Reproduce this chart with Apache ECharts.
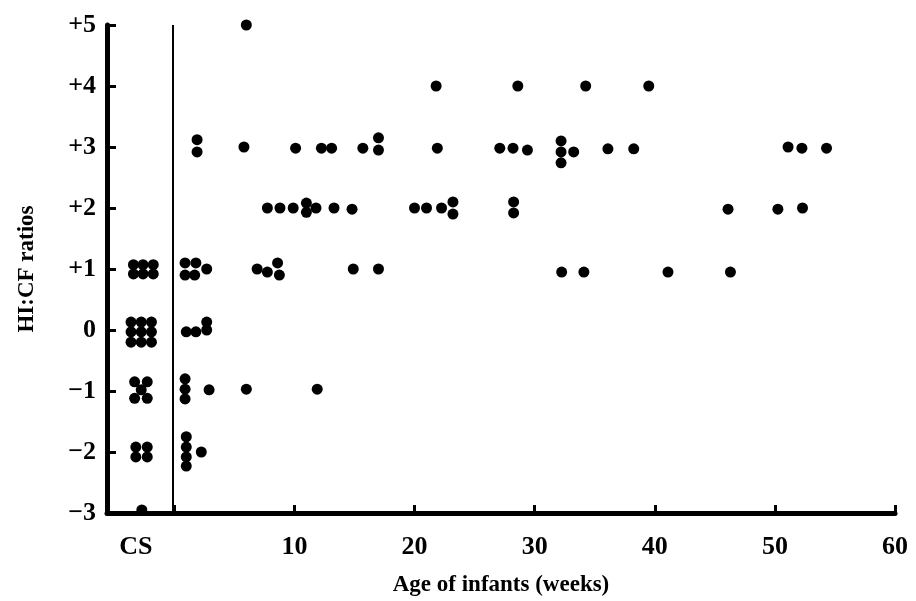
<!DOCTYPE html>
<html>
<head>
<meta charset="utf-8">
<script src="https://cdn.jsdelivr.net/npm/echarts@6/dist/echarts.min.js"></script>
<style>
  html, body { margin: 0; padding: 0; background: #fff; }
  #chart { width: 916px; height: 601px; }
</style>
</head>
<body>
<div id="chart"></div>
<script>
// CS = cord serum, drawn left of the week-0 line
var ageWeeks = [
    -3.4, -2.6, -1.75, -3.4, -2.6, -1.75,
    -3.6, -2.75, -1.9, -3.6, -2.75, -1.9, -3.6, -2.75, -1.9,
    -3.3, -2.25, -2.75, -3.3, -2.25,
    -3.2, -2.25, -3.2, -2.25,
    -2.7,
    6.0,
    21.8, 28.6, 34.25, 39.5,
    1.9, 1.9, 5.8, 10.1, 12.25, 13.1, 15.7, 17.0, 17.0, 21.9, 27.1, 28.2, 29.4,
    32.2, 32.2, 32.2, 33.25, 36.1, 38.25, 51.1, 52.25, 54.3,
    7.75, 8.8, 9.9, 11.0, 11.0, 11.8, 13.3, 14.8, 20.0, 21.0, 22.25, 23.2, 23.2,
    28.25, 28.25, 46.1, 50.25, 52.3,
    0.9, 1.8, 0.9, 1.7, 2.7, 6.9, 7.75, 8.6, 8.75, 14.9, 17.0, 32.25, 34.1, 41.1, 46.3,
    1.0, 1.8, 2.7, 2.7,
    0.9, 0.9, 0.9, 2.9, 6.0, 11.9,
    1.0, 1.0, 1.0, 1.0, 2.25
];
var hiCfRatio = [
    1.07, 1.07, 1.07, 0.92, 0.92, 0.92,
    0.13, 0.13, 0.13, -0.03, -0.03, -0.03, -0.2, -0.2, -0.2,
    -0.85, -0.85, -0.98, -1.12, -1.12,
    -1.92, -1.92, -2.08, -2.08,
    -2.95,
    5,
    4, 4, 4, 4,
    3.12, 2.92, 3, 2.98, 2.98, 2.98, 2.98, 3.15, 2.95, 2.98, 2.98, 2.98, 2.95,
    3.1, 2.92, 2.74, 2.92, 2.97, 2.97, 3.0, 2.98, 2.98,
    2, 2, 2, 2.08, 1.93, 2, 2, 1.98, 2, 2, 2, 2.1, 1.9,
    2.1, 1.92, 1.98, 1.98, 2,
    1.1, 1.1, 0.9, 0.9, 1.0, 1.0, 0.95, 1.1, 0.9, 1.0, 1.0, 0.95, 0.95, 0.95, 0.95,
    -0.03, -0.03, 0, 0.13,
    -0.8, -0.97, -1.13, -0.98, -0.97, -0.97,
    -1.75, -1.92, -2.08, -2.23, -2.0
];
var xLabelValues = [-3.2, 10, 20, 30, 40, 50, 60];
var xLabelTexts = ['CS', '10', '20', '30', '40', '50', '60'];
var xTickValues = [0, 10, 20, 30, 40, 50, 60];
var yTickLabels = ['\u22123', '\u22122', '\u22121', '0', '+1', '+2', '+3', '+4', '+5'];

var points = [];
for (var i = 0; i < ageWeeks.length; i++) {
    points.push([ageWeeks[i], hiCfRatio[i]]);
}

var font = 'Liberation Serif';
var myChart = echarts.init(document.getElementById('chart'));
var option = {
    backgroundColor: '#fff',
    animation: false,
    grid: {
        left: 107,
        top: 25,
        width: 788,
        height: 488,
        containLabel: false,
        outerBoundsMode: 'none'
    },
    xAxis: {
        type: 'value',
        min: -5.6,
        max: 60,
        name: 'Age of infants (weeks)',
        nameLocation: 'middle',
        nameGap: 61,
        nameTextStyle: { fontFamily: font, fontWeight: 'bold', fontSize: 23, color: '#000' },
        axisLine: { show: true, onZero: false, lineStyle: { color: '#000', width: 5 } },
        axisTick: {
            show: true,
            inside: true,
            length: 8,
            lineStyle: { color: '#000', width: 3 },
            customValues: xTickValues
        },
        axisLabel: {
            fontFamily: font,
            fontWeight: 'bold',
            fontSize: 26,
            color: '#000',
            margin: 21,
            customValues: xLabelValues,
            formatter: function (v) {
                var k = xLabelValues.indexOf(v);
                return k >= 0 ? xLabelTexts[k] : '';
            }
        },
        splitLine: { show: false }
    },
    yAxis: {
        type: 'value',
        min: -3,
        max: 5,
        interval: 1,
        name: 'HI:CF ratios',
        nameLocation: 'middle',
        nameGap: 68,
        nameTextStyle: { fontFamily: font, fontWeight: 'bold', fontSize: 23, color: '#000' },
        axisLine: { show: true, onZero: false, lineStyle: { color: '#000', width: 5 } },
        axisTick: { show: true, inside: true, length: 9, lineStyle: { color: '#000', width: 3 } },
        axisLabel: {
            fontFamily: font,
            fontWeight: 'bold',
            fontSize: 26,
            color: '#000',
            margin: 11,
            formatter: function (v) {
                return yTickLabels[Math.round(v) + 3];
            }
        },
        splitLine: { show: false }
    },
    series: [{
        type: 'scatter',
        data: points,
        symbol: 'circle',
        symbolSize: 11,
        itemStyle: { color: '#000', opacity: 1 },
        markLine: {
            silent: true,
            symbol: ['none', 'none'],
            label: { show: false },
            lineStyle: { color: '#000', width: 2, type: 'solid' },
            data: [{ xAxis: -0.1 }]
        }
    }]
};
myChart.setOption(option);
</script>
</body>
</html>
